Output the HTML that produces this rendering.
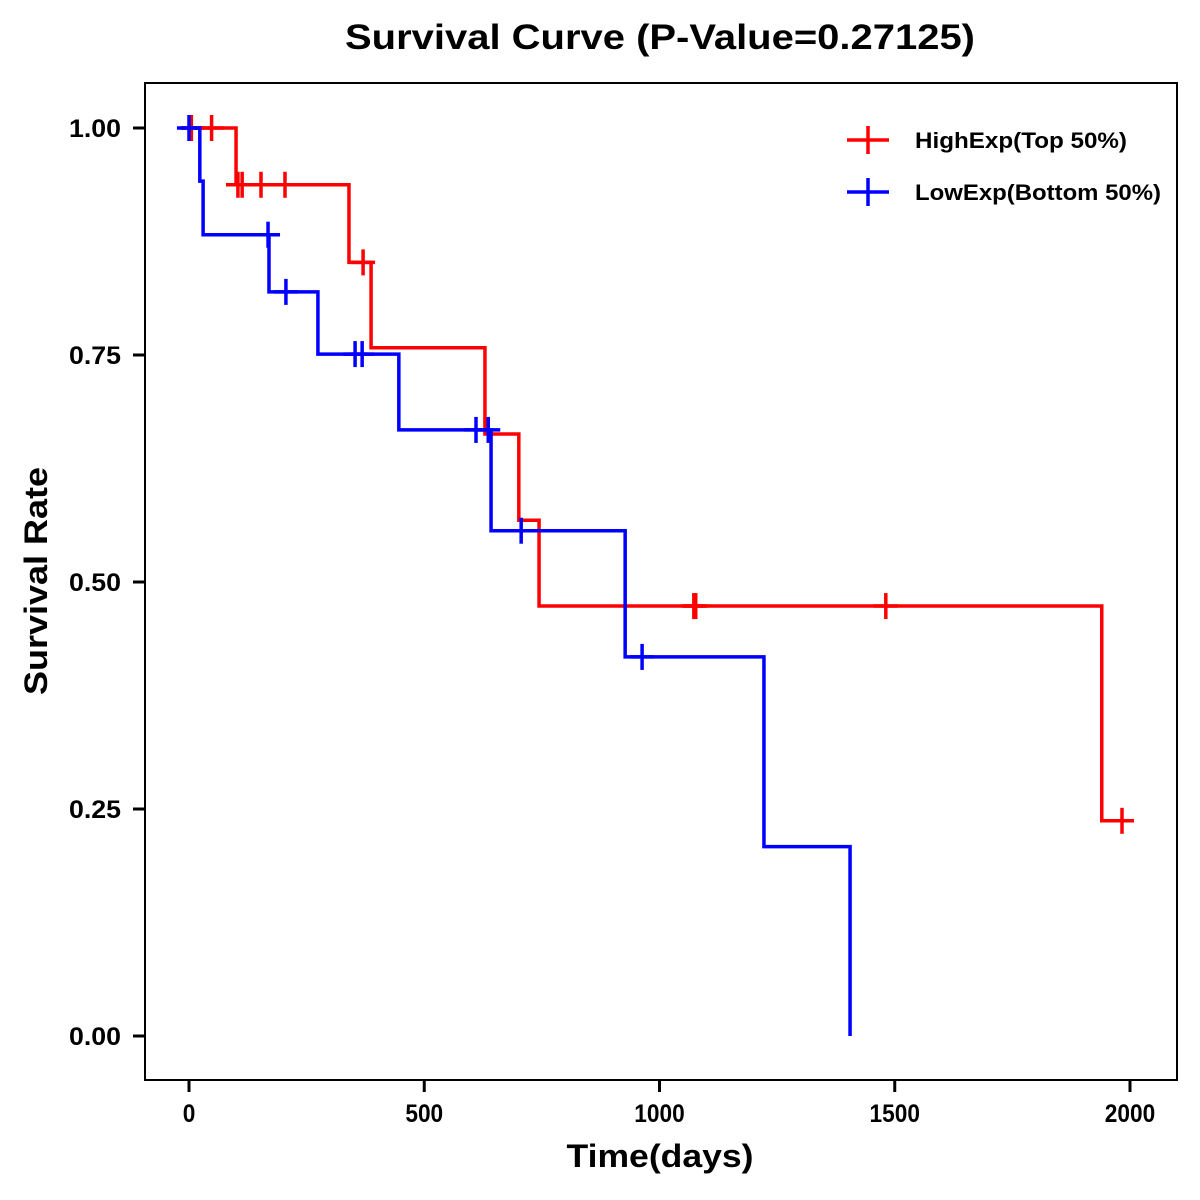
<!DOCTYPE html>
<html><head><meta charset="utf-8">
<style>
html,body{margin:0;padding:0;background:#fff;}
svg{display:block;font-family:"Liberation Sans",Arial,sans-serif;}
</style></head>
<body>
<svg id="chart" width="1200" height="1200" viewBox="0 0 1200 1200">
<rect x="0" y="0" width="1200" height="1200" fill="#fff"/>
<text x="660" y="49" text-anchor="middle" font-size="35" font-weight="bold" textLength="630" lengthAdjust="spacingAndGlyphs">Survival Curve (P-Value=0.27125)</text>
<rect x="145" y="83" width="1032" height="997" fill="none" stroke="#000" stroke-width="2"/>
<g id="xticks"></g>
<g id="yticks"></g>
<g id="series"></g>
<text x="660" y="1167" text-anchor="middle" font-size="32" font-weight="bold" textLength="187" lengthAdjust="spacingAndGlyphs">Time(days)</text>
<text x="47" y="581" text-anchor="middle" font-size="32" font-weight="bold" textLength="228" lengthAdjust="spacingAndGlyphs" transform="rotate(-90 47 581)">Survival Rate</text>
<g>
  <g>
    <line x1="847" y1="140" x2="889" y2="140" stroke="#f00" stroke-width="3.5"/>
    <line x1="868" y1="126" x2="868" y2="154" stroke="#f00" stroke-width="3.5"/>
    <text x="915" y="148" font-size="22" font-weight="bold" textLength="212" lengthAdjust="spacingAndGlyphs">HighExp(Top 50%)</text>
  </g>
  <g>
    <line x1="847" y1="192" x2="889" y2="192" stroke="#00f" stroke-width="3.5"/>
    <line x1="868" y1="178" x2="868" y2="206" stroke="#00f" stroke-width="3.5"/>
    <text x="915" y="200" font-size="22" font-weight="bold" textLength="246" lengthAdjust="spacingAndGlyphs">LowExp(Bottom 50%)</text>
  </g>
</g>
</svg>
<script>
// data
const xTicks = [0, 500, 1000, 1500, 2000];
const yTicks = [0, 0.25, 0.5, 0.75, 1.0];
const yTickLabels = ["0.00", "0.25", "0.50", "0.75", "1.00"];
const highTimes = [0, 100, 340, 387, 629, 701, 744, 1940];
const highSurv = [1.0, 0.9375, 0.852, 0.758, 0.663, 0.568, 0.4735, 0.237];
const highEnd = 1983;
const highCensorT = [5, 48, 104, 113, 153, 204, 370, 1073, 1077, 1481, 1983];
const lowTimes = [0, 23, 30, 170, 274, 446, 642, 927, 1222, 1405];
const lowSurv = [1.0, 0.9415, 0.8825, 0.8195, 0.751, 0.6675, 0.5565, 0.4175, 0.2085, 0.0];
const lowEnd = 1405;
const lowCensorT = [0, 168, 206, 353, 368, 610, 636, 706, 963];

const X0 = 189, XS = 941 / 2000, Y0 = 1036, YS = 908;
const sx = d => X0 + d * XS;
const sy = v => Y0 - v * YS;
const NS = "http://www.w3.org/2000/svg";
function mk(tag, attrs, parent) {
  const e = document.createElementNS(NS, tag);
  for (const k in attrs) e.setAttribute(k, attrs[k]);
  parent.appendChild(e);
  return e;
}
const gx = document.getElementById('xticks');
xTicks.forEach(t => {
  const l = mk('line', {x1: sx(t), x2: sx(t), y1: 1080, y2: 1092, stroke: '#000', 'stroke-width': 3}, gx);
  
  
  const s = String(t);
  const tx = mk('text', {x: sx(t), y: 1122, 'text-anchor': 'middle', 'font-size': 25, 'font-weight': 'bold', textLength: s.length * 12.6, lengthAdjust: 'spacingAndGlyphs'}, gx);
  tx.textContent = s;
  
  
});
const gy = document.getElementById('yticks');
yTicks.forEach((t, i) => {
  const l = mk('line', {x1: 133, x2: 145, y1: sy(t), y2: sy(t), stroke: '#000', 'stroke-width': 3}, gy);
  
  
  const tx = mk('text', {x: 121, y: sy(t) + 9, 'text-anchor': 'end', 'font-size': 25, 'font-weight': 'bold', textLength: 52, lengthAdjust: 'spacingAndGlyphs'}, gy);
  tx.textContent = yTickLabels[i];
  
  
});
function survAt(times, surv, t) {
  let v = surv[0];
  for (let i = 0; i < times.length; i++) if (times[i] <= t) v = surv[i];
  return v;
}
const gs = document.getElementById('series');
function drawSeries(times, surv, end, cens, color, name) {
  let d = 'M' + (sx(times[0]) - 7) + ',' + sy(surv[0]);
  for (let i = 1; i < times.length; i++) {
    d += ' H' + sx(times[i]) + ' V' + sy(surv[i]);
  }
  d += ' H' + sx(end);
  const p = mk('path', {d: d, fill: 'none', stroke: color, 'stroke-width': 3.5}, gs);
  
  
  cens.forEach(t => {
    const v = survAt(times, surv, t);
    const g = mk('g', {stroke: color, 'stroke-width': 3.5}, gs);
    
    
    mk('line', {x1: sx(t) - 12, x2: sx(t) + 12, y1: sy(v), y2: sy(v)}, g);
    mk('line', {x1: sx(t), x2: sx(t), y1: sy(v) - 13, y2: sy(v) + 13}, g);
  });
}
drawSeries(highTimes, highSurv, highEnd, highCensorT, '#f00', 'high-exp');
drawSeries(lowTimes, lowSurv, lowEnd, lowCensorT, '#00f', 'low-exp');
</script>
</body></html>
